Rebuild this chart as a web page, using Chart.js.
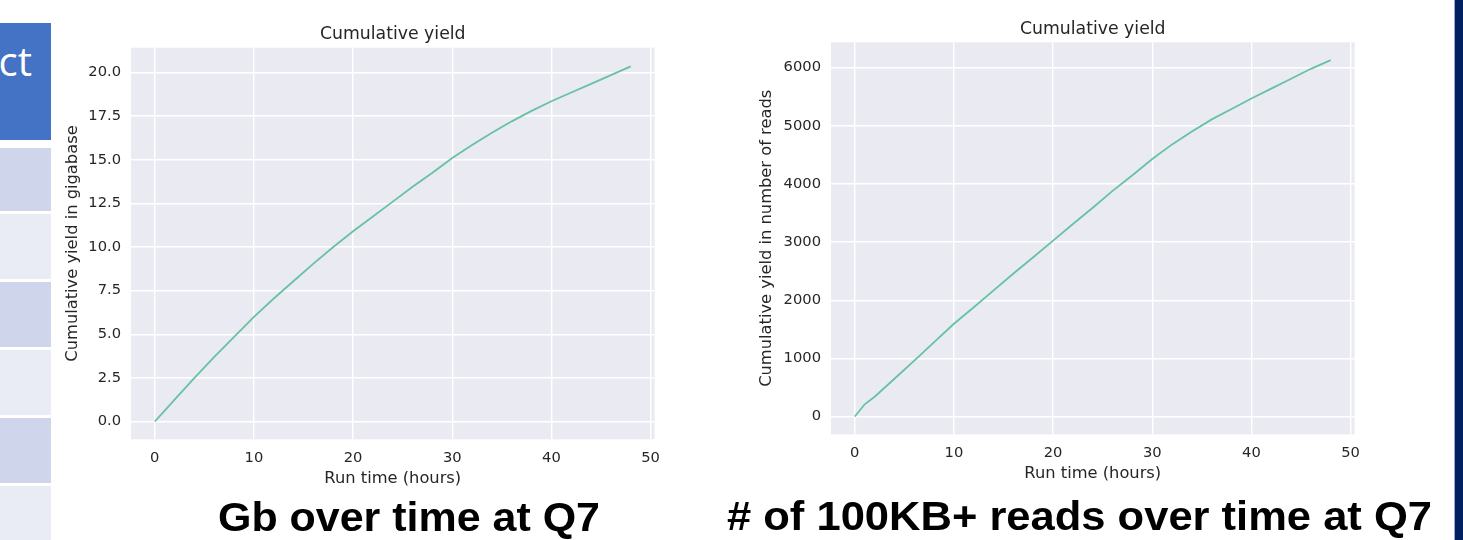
<!DOCTYPE html>
<html>
<head>
<meta charset="utf-8">
<script src="https://cdn.jsdelivr.net/npm/chart.js@4.4.1/dist/chart.umd.min.js"></script>
<style>
  html, body { margin: 0; padding: 0; background: #fff; }
  body { width: 1463px; height: 540px; position: relative; overflow: hidden; font-family: "Liberation Sans", Arial, sans-serif; }
  .cell { position: absolute; left: 0; width: 51px; }
  .hdr { top: 23px; height: 117px; background: #4472c4; color: #fff; font-family: "Open Sans", sans-serif; font-size: 40px; line-height: 1; }
  .hdr span { position: absolute; right: 19px; top: 18px; }
  .r1 { background: #cfd5ea; }
  .r2 { background: #e9ebf5; }
  .navy { position: absolute; left: 1454px; top: 0; width: 9px; height: 540px; background: #002060; border-left: 1px solid #9aa9cc; }
  .box { position: absolute; top: 0; }
  .cap { position: absolute; font-weight: bold; color: #000; font-size: 40px; line-height: 1; white-space: nowrap; transform-origin: left top; }
</style>
</head>
<body>

<div class="cell hdr"><span>ct</span></div>
<div class="cell r1" style="top:148px;height:63px"></div>
<div class="cell r2" style="top:214px;height:65px"></div>
<div class="cell r1" style="top:282px;height:65px"></div>
<div class="cell r2" style="top:350px;height:65px"></div>
<div class="cell r1" style="top:418px;height:65px"></div>
<div class="cell r2" style="top:486px;height:60px"></div>
<div class="navy"></div>

<div class="box" style="left:55px;width:615px;height:500px"><canvas id="gbChart" width="615" height="500"></canvas></div>
<div class="box" style="left:745px;width:625px;height:495px"><canvas id="readsChart" width="625" height="495"></canvas></div>

<div class="cap" id="cap1" style="left:218px;top:497px">Gb over time at Q7</div>
<div class="cap" id="cap2" style="left:727px;top:496px">#&nbsp;of 100KB+ reads over time at Q7</div>

<script>
// ================= DATA =================
const hours = [0, 1, 2, 4, 6, 8, 10, 12, 14, 16, 18, 20, 22, 24, 26, 28, 30, 32, 34, 36, 38, 40, 42, 44, 46, 48];

// cumulative gigabase
const gigabase = [0, 0.62, 1.25, 2.5, 3.7, 4.85, 6.0, 7.05, 8.05, 9.05, 10.0, 10.9, 11.75, 12.6, 13.45, 14.25,
  15.1, 15.85, 16.55, 17.2, 17.8, 18.35, 18.85, 19.35, 19.85, 20.35];

// cumulative number of 100KB+ reads
const reads = [0, 210, 340, 650, 960, 1280, 1595, 1880, 2170, 2460, 2740, 3025, 3310, 3590, 3880, 4150,
  4430, 4680, 4900, 5110, 5290, 5470, 5640, 5810, 5980, 6130];

const xTicks = [0, 10, 20, 30, 40, 50];

// ================= STYLE =================
const TEXT = "#262626";
const FONT = "'DejaVu Sans', sans-serif";
const LINE = "#66c2a5";

// axes background + title centred over the plot area (like matplotlib)
const plotBg = {
  id: "plotBg",
  beforeDraw(chart, args, o) {
    const { ctx, chartArea: a } = chart;
    ctx.save();
    ctx.fillStyle = "#eaeaf2";
    ctx.fillRect(a.left, a.top, a.right - a.left, a.bottom - a.top);
    ctx.fillStyle = TEXT;
    ctx.font = "17.3px " + FONT;
    ctx.textAlign = "center";
    ctx.textBaseline = "middle";
    ctx.fillText(o.text, (a.left + a.right) / 2, o.y);
    ctx.restore();
  }
};

function makeChart(id, ys, opts) {
  const points = hours.map((h, i) => ({ x: h, y: ys[i] }));
  return new Chart(document.getElementById(id), {
    type: "line",
    data: {
      datasets: [{
        data: points,
        borderColor: LINE,
        borderWidth: 1.8,
        pointRadius: 0,
        tension: 0,
        fill: false
      }]
    },
    options: {
      responsive: false,
      animation: false,
      events: [],
      layout: { padding: { left: 0, right: opts.padRight, top: opts.top, bottom: 0 } },
      plugins: {
        legend: { display: false },
        tooltip: { enabled: false },
        title: { display: false },
        plotBg: { text: "Cumulative yield", y: opts.titleY }
      },
      scales: {
        x: {
          type: "linear",
          min: -2.4,
          max: 50.4,
          afterBuildTicks: (s) => { s.ticks = xTicks.map(v => ({ value: v })); },
          afterFit: (s) => { s.height = opts.xHeight; },
          border: { display: false },
          grid: { color: "#ffffff", lineWidth: 1.4, drawTicks: false },
          ticks: { color: TEXT, font: { family: FONT, size: 14.7 }, padding: 10, maxRotation: 0 },
          title: {
            display: true,
            text: "Run time (hours)",
            color: TEXT,
            font: { family: FONT, size: 16.3 },
            padding: { top: 0, bottom: 11.5 }
          }
        },
        y: {
          min: opts.yMin,
          max: opts.yMax,
          afterBuildTicks: (s) => { s.ticks = opts.yTicks.map(v => ({ value: v })); },
          afterFit: (s) => { s.width = opts.yWidth; },
          border: { display: false },
          grid: { color: "#ffffff", lineWidth: 1.4, drawTicks: false },
          ticks: {
            color: TEXT,
            font: { family: FONT, size: 14.7 },
            padding: 10,
            callback: opts.fmt
          },
          title: {
            display: true,
            text: opts.yTitle,
            color: TEXT,
            font: { family: FONT, size: 16.3 },
            padding: { top: opts.yTitlePad, bottom: 0 }
          }
        }
      }
    },
    plugins: [plotBg]
  });
}

// ================= CHARTS =================
makeChart("gbChart", gigabase, {
  padRight: 11.5,
  top: 47.7,
  titleY: 34.5,
  xHeight: 60.7,
  yWidth: 76,
  yMin: -1.02,
  yMax: 21.42,
  yTicks: [0, 2.5, 5, 7.5, 10, 12.5, 15, 17.5, 20],
  fmt: (v) => Number(v).toFixed(1),
  yTitle: "Cumulative yield in gigabase",
  yTitlePad: 8.2
});

makeChart("readsChart", reads, {
  padRight: 11.5,
  top: 42.3,
  titleY: 29.5,
  xHeight: 60.7,
  yWidth: 86,
  yMin: -306,
  yMax: 6436,
  yTicks: [0, 1000, 2000, 3000, 4000, 5000, 6000],
  fmt: (v) => String(v),
  yTitle: "Cumulative yield in number of reads",
  yTitlePad: 12.2
});

// stretch captions to the measured widths of the slide text
function fitCaption(id, w) {
  const el = document.getElementById(id);
  const cur = el.getBoundingClientRect().width;
  el.style.transform = "scaleX(" + (w / cur) + ")";
}
fitCaption("cap1", 382);
fitCaption("cap2", 705);
</script>
</body>
</html>
